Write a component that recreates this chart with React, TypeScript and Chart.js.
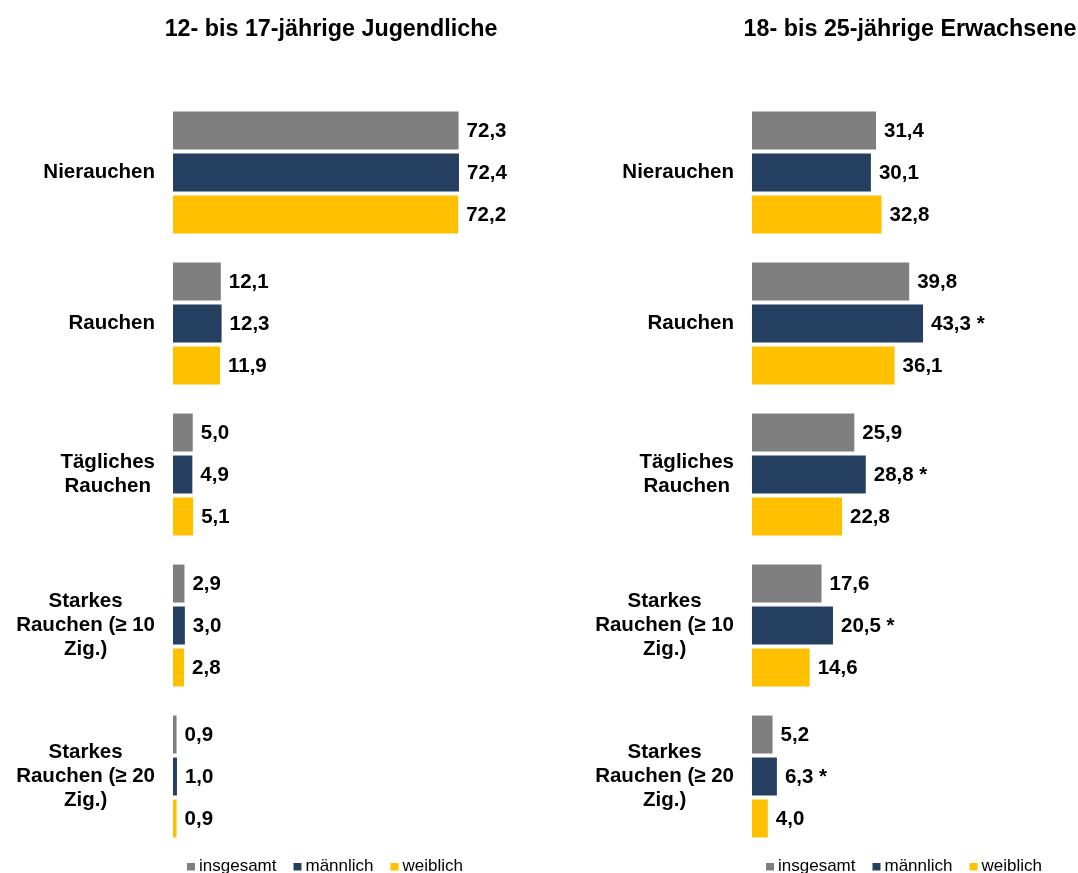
import React, { useEffect, useRef } from "react";
import { Chart, registerables } from "chart.js";

Chart.register(...registerables);

const categories: string[][] = [
  ["Nierauchen"],
  ["Rauchen"],
  ["Tägliches", "Rauchen"],
  ["Starkes", "Rauchen (≥ 10", "Zig.)"],
  ["Starkes", "Rauchen (≥ 20", "Zig.)"],
];

const seriesNames = ["insgesamt", "männlich", "weiblich"];
const seriesColors = ["#7F7F7F", "#243F60", "#FFC000"];

const youthTitle = "12- bis 17-jährige Jugendliche";
const youthTotal = [72.3, 12.1, 5.0, 2.9, 0.9];
const youthMale = [72.4, 12.3, 4.9, 3.0, 1.0];
const youthFemale = [72.2, 11.9, 5.1, 2.8, 0.9];
const youthMaleMarks = ["", "", "", "", ""];

const adultTitle = "18- bis 25-jährige Erwachsene";
const adultTotal = [31.4, 39.8, 25.9, 17.6, 5.2];
const adultMale = [30.1, 43.3, 28.8, 20.5, 6.3];
const adultFemale = [32.8, 36.1, 22.8, 14.6, 4.0];
const adultMaleMarks = ["", "*", "*", "*", "*"];

const xMin = 0;
const xMax = 80;

const FONT = "'Liberation Sans', Arial, Helvetica, sans-serif";
const LABEL_FONT = `bold 20.5px ${FONT}`;
const TITLE_FONT = `bold 23.3px ${FONT}`;
const CANVAS_H = 873;
const AXIS_RIGHT = 173;
const AREA_RIGHT = 489;

function fmt(v: number) {
  return v.toFixed(1).replace(".", ",");
}

const drawPlugin = {
  id: "customText",
  afterDraw(chart: any, _args: any, opts: any) {
    const ctx = chart.ctx;
    const area = chart.chartArea;
    const yScale = chart.scales.y;
    ctx.save();
    // title
    ctx.fillStyle = "#000";
    ctx.font = TITLE_FONT;
    ctx.textAlign = "center";
    ctx.textBaseline = "middle";
    ctx.fillText(opts.title, (area.left + area.right) / 2, 30);

    ctx.font = LABEL_FONT;
    // category labels: block right-aligned, lines centred in block
    categories.forEach((lines, i) => {
      const cy = yScale.getPixelForValue(i);
      const widest = Math.max(...lines.map((l) => ctx.measureText(l).width));
      const cx = area.left - 18 - widest / 2;
      const lh = 24;
      ctx.textAlign = "center";
      ctx.textBaseline = "middle";
      lines.forEach((l, j) => {
        ctx.fillText(l, cx, cy + (j - (lines.length - 1) / 2) * lh);
      });
    });
    // data labels
    chart.data.datasets.forEach((ds: any, di: number) => {
      const meta = chart.getDatasetMeta(di);
      meta.data.forEach((el: any, i: number) => {
        const mark = ds.marks ? ds.marks[i] : "";
        const txt = fmt(ds.data[i]) + (mark ? " " + mark : "");
        ctx.textAlign = "left";
        ctx.textBaseline = "middle";
        ctx.fillText(txt, el.x + 8, el.y + 1);
      });
    });
    // legend
    ctx.font = `17px ${FONT}`;
    const box = 8;
    const gapBox = 4;
    const gapItem = 17;
    const widths = seriesNames.map((n) => ctx.measureText(n).width);
    const total =
      widths.reduce((a, b) => a + b, 0) + seriesNames.length * (box + gapBox) + (seriesNames.length - 1) * gapItem;
    let x = (area.left + area.right) / 2 - 6 - total / 2;
    const baseY = opts.legendBaseline;
    seriesNames.forEach((n, k) => {
      ctx.fillStyle = seriesColors[k];
      ctx.fillRect(x, baseY - 8, box, box - 0.5);
      x += box + gapBox;
      ctx.fillStyle = "#000";
      ctx.textAlign = "left";
      ctx.textBaseline = "alphabetic";
      ctx.fillText(n, x, baseY);
      x += widths[k] + gapItem;
    });
    ctx.restore();
  },
};

function Panel(props: {
  title: string;
  total: number[];
  male: number[];
  female: number[];
  maleMarks: string[];
  left: number;
  width: number;
}) {
  const ref = useRef<HTMLCanvasElement | null>(null);
  useEffect(() => {
    if (!ref.current) return;
    const data = [props.total, props.male, props.female];
    const chart = new Chart(ref.current, {
      type: "bar",
      data: {
        labels: categories.map((c) => c.join(" ")),
        datasets: data.map((d, k) => ({
          label: seriesNames[k],
          data: d,
          backgroundColor: seriesColors[k],
          borderWidth: 0,
          categoryPercentage: 0.834,
          barPercentage: 0.905,
          marks: k === 1 ? props.maleMarks : null,
        })) as any,
      },
      options: {
        indexAxis: "y",
        responsive: false,
        animation: false,
        devicePixelRatio: 1,
        layout: { padding: { left: 0, right: props.width - AREA_RIGHT, top: 97, bottom: 21 } },
        scales: {
          x: {
            display: false,
            min: xMin,
            max: xMax,
          },
          y: {
            grid: { display: false },
            border: { display: false },
            ticks: { display: false },
            afterFit(scale: any) {
              scale.width = AXIS_RIGHT;
            },
          },
        },
        plugins: {
          legend: { display: false },
          tooltip: { enabled: false },
          title: { display: false },
          customText: { legendBaseline: 871, title: props.title },
        } as any,
      },
      plugins: [drawPlugin],
    });
    return () => chart.destroy();
  }, []);
  return (
    <canvas
      ref={ref}
      width={props.width}
      height={CANVAS_H}
      style={{ position: "absolute", left: props.left, top: 0, width: props.width, height: CANVAS_H }}
    />
  );
}

export default function App() {
  return (
    <div
      style={{
        position: "absolute",
        left: 0,
        top: 0,
        width: 1078,
        height: 873,
        overflow: "hidden",
        background: "#fff",
      }}
    >
      <Panel title={youthTitle} total={youthTotal} male={youthMale} female={youthFemale} maleMarks={youthMaleMarks} left={0} width={579} />
      <Panel title={adultTitle} total={adultTotal} male={adultMale} female={adultFemale} maleMarks={adultMaleMarks} left={579} width={499} />
    </div>
  );
}
